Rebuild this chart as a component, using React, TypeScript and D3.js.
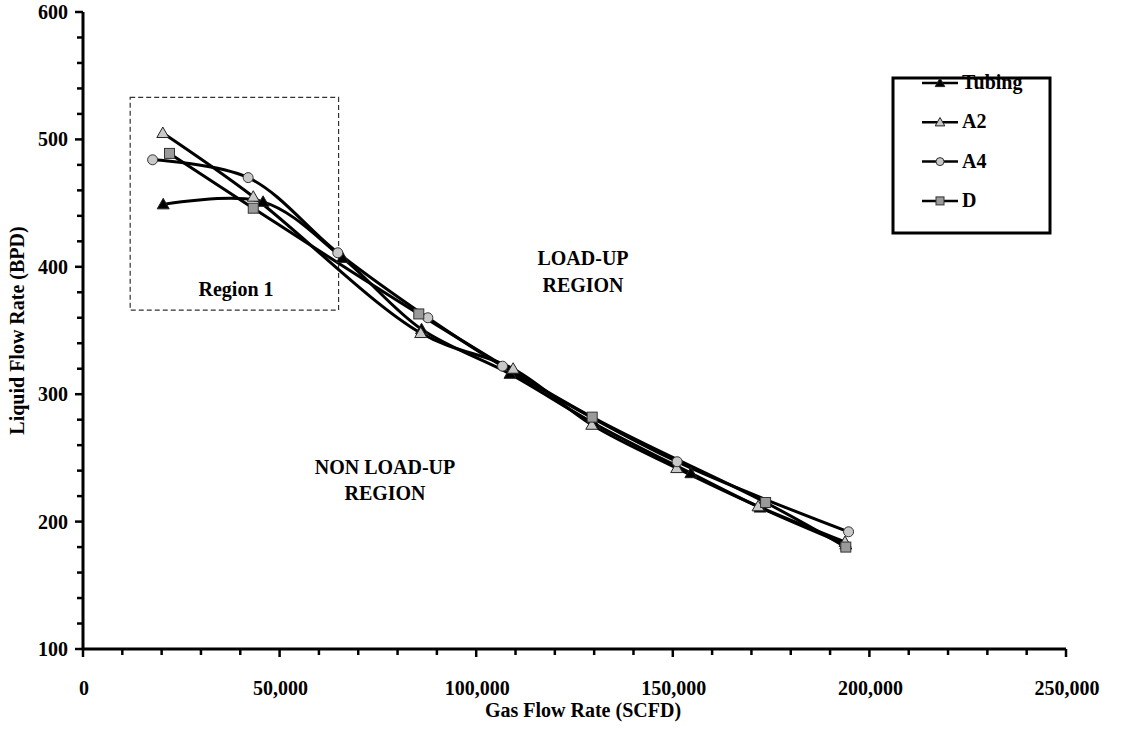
import React from 'react';
import * as d3 from 'd3';

// data
const tubingX = [20400, 45800, 66000, 86100, 108600, 130000, 154600, 172200, 194000];
const tubingY = [449, 451, 407, 351, 316, 277, 238, 211, 182];
const a2X = [20300, 43300, 85900, 109400, 129400, 151000, 171700, 193800];
const a2Y = [505, 455, 348, 320, 276, 242, 212, 184];
const a4X = [17700, 42000, 64800, 87700, 106700, 151100, 194700];
const a4Y = [484, 470, 411, 360, 322, 247, 192];
const dX = [22000, 43300, 85400, 129500, 173600, 194000];
const dY = [489, 446, 363, 282, 215, 180];

const xTicks = [0, 50000, 100000, 150000, 200000, 250000];
const yTicks = [100, 200, 300, 400, 500, 600];

const series = [
  { name: 'Tubing', xs: tubingX, ys: tubingY, marker: 'tri', fill: '#000' },
  { name: 'A2', xs: a2X, ys: a2Y, marker: 'tri', fill: '#c8c8c8' },
  { name: 'A4', xs: a4X, ys: a4Y, marker: 'circle', fill: '#c8c8c8' },
  { name: 'D', xs: dX, ys: dY, marker: 'square', fill: '#9a9a9a' },
];

const font = '"Liberation Serif", "Times New Roman", serif';

const Marker = ({ type, x, y, fill, s = 1 }) => {
  if (type === 'tri') {
    const r = 6 * s;
    return (
      <path
        d={`M${x},${y - r}L${x + r},${y + r * 0.75}L${x - r},${y + r * 0.75}Z`}
        fill={fill}
        stroke="#222"
        strokeWidth={1}
      />
    );
  }
  if (type === 'circle') {
    return <circle cx={x} cy={y} r={5 * s} fill={fill} stroke="#333" strokeWidth={1} />;
  }
  const h = 5 * s;
  return <rect x={x - h} y={y - h} width={h * 2} height={h * 2} fill={fill} stroke="#333" strokeWidth={1} />;
};

export default function App() {
  const x = d3.scaleLinear().domain([0, 250000]).range([83, 1066]);
  const y = d3.scaleLinear().domain([100, 600]).range([649, 12]);
  const line = d3
    .line<[number, number]>()
    .x((d) => x(d[0]))
    .y((d) => y(d[1]))
    .curve(d3.curveCatmullRom.alpha(0.5));

  const xMinor = d3.range(0, 250001, 10000);
  const yMinor = d3.range(100, 601, 20);
  const fmt = d3.format(',');

  return (
    <svg width={1123} height={730} style={{ position: 'absolute', left: 0, top: 0, background: '#fff' }} fontFamily={font} fontWeight="bold">
      {/* region 1 box */}
      <rect x={x(12000)} y={y(533)} width={x(65000) - x(12000)} height={y(366) - y(533)}
        fill="none" stroke="#333" strokeWidth={1.2} strokeDasharray="5,3" />
      <text x={236} y={296} textAnchor="middle" fontSize={20}>Region 1</text>
      <text x={583} y={265} textAnchor="middle" fontSize={20}>LOAD-UP</text>
      <text x={583} y={292} textAnchor="middle" fontSize={20}>REGION</text>
      <text x={385} y={474} textAnchor="middle" fontSize={20}>NON LOAD-UP</text>
      <text x={385} y={500} textAnchor="middle" fontSize={20}>REGION</text>

      {/* axes */}
      <line x1={x(0)} x2={x(250000)} y1={y(100)} y2={y(100)} stroke="#000" strokeWidth={3} />
      <line x1={x(0)} x2={x(0)} y1={y(100)} y2={y(600)} stroke="#000" strokeWidth={3} />
      {xMinor.map((v) => (
        <line key={'xm' + v} x1={x(v)} x2={x(v)} y1={y(100)} y2={y(100) + (v % 50000 === 0 ? 8 : 6)} stroke="#000" strokeWidth={2.5} />
      ))}
      {yMinor.map((v) => (
        <line key={'ym' + v} x1={x(0) - (v % 100 === 0 ? 8 : 6)} x2={x(0)} y1={y(v)} y2={y(v)} stroke="#000" strokeWidth={2.5} />
      ))}
      {xTicks.map((v) => (
        <text key={'xt' + v} x={x(v) + 1} y={y(100) + 46} textAnchor="middle" fontSize={20}>{fmt(v)}</text>
      ))}
      {yTicks.map((v) => (
        <text key={'yt' + v} x={x(0) - 15} y={y(v) + 7} textAnchor="end" fontSize={20}>{v}</text>
      ))}
      <text x={583} y={717} textAnchor="middle" fontSize={20}>Gas Flow Rate (SCFD)</text>
      <text transform={`translate(24,${y(350)}) rotate(-90)`} textAnchor="middle" fontSize={20}>Liquid Flow Rate (BPD)</text>

      {/* series */}
      {series.map((s) => (
        <path key={'l' + s.name} d={line(s.xs.map((v, i) => [v, s.ys[i]]))} fill="none" stroke="#000" strokeWidth={3} />
      ))}
      {series.map((s) =>
        s.xs.map((v, i) => <Marker key={s.name + i} type={s.marker} x={x(v)} y={y(s.ys[i])} fill={s.fill} />)
      )}

      {/* legend */}
      <rect x={893} y={78} width={157} height={155} fill="#fff" stroke="#000" strokeWidth={3} />
      {series.map((s, i) => {
        const ly = 83 + i * 39.3;
        return (
          <g key={'lg' + s.name}>
            <line x1={922} x2={958} y1={ly} y2={ly} stroke="#000" strokeWidth={2.5} />
            <Marker type={s.marker} x={940} y={ly} fill={s.fill} s={0.8} />
            <text x={962} y={ly + 6} fontSize={20}>{s.name}</text>
          </g>
        );
      })}
    </svg>
  );
}
